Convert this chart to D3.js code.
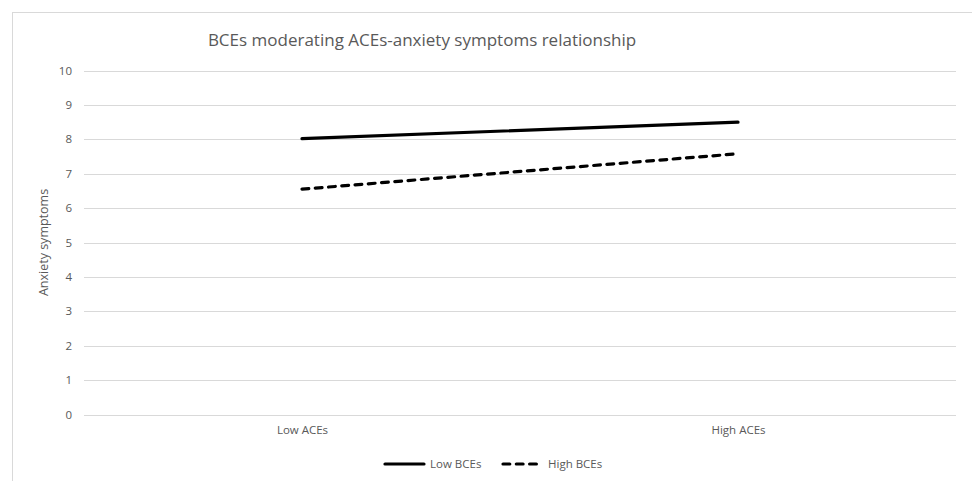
<!DOCTYPE html>
<html><head><meta charset="utf-8">
<script src="https://cdn.jsdelivr.net/npm/d3@7"></script>
<style>body{margin:0;background:#fff}svg{display:block}</style>
</head><body>
<svg id="c" width="972" height="481"></svg>
<script>
const categories = ["Low ACEs", "High ACEs"];
const seriesNames = ["Low BCEs", "High BCEs"];
const lowBCEs = [8.02, 8.5];
const highBCEs = [6.55, 7.58];
const yTicks = [0,1,2,3,4,5,6,7,8,9,10];
const title = "BCEs moderating ACEs-anxiety symptoms relationship";
const yLabel = "Anxiety symptoms";

const font = "'Open Sans', 'Liberation Sans', sans-serif";
const textColor = "#595959";
const svg = d3.select("#c");
svg.append("rect").attr("x",12.5).attr("y",12.5).attr("width",980).attr("height",480)
  .attr("fill","#fff").attr("stroke","#d9d9d9");

const m = {l:84, r:956, t:70.5, b:414.5};
const x = d3.scalePoint().domain(categories).range([m.l, m.r]).padding(0.5);
const y = d3.scaleLinear().domain([0,10]).range([m.b, m.t]);

const grid = svg.append("g");
grid.selectAll("line").data(yTicks).join("line")
  .attr("x1", m.l).attr("x2", m.r)
  .attr("y1", d=>Math.round(y(d))+0.5).attr("y2", d=>Math.round(y(d))+0.5)
  .attr("stroke","#d9d9d9").attr("stroke-width",1);

const yAxis = d3.axisLeft(y).tickValues(yTicks).tickSize(0).tickPadding(0);
const ya = svg.append("g").attr("transform",`translate(72,0)`).call(yAxis);
ya.select(".domain").remove();
ya.selectAll("text").attr("font-family",font).attr("font-size",11.5).attr("fill",textColor);

const xAxis = d3.axisBottom(x).tickSize(0).tickPadding(0);
const xa = svg.append("g").attr("transform",`translate(0,426)`).call(xAxis);
xa.select(".domain").remove();
xa.selectAll("text").attr("font-family",font).attr("font-size",11.5).attr("fill",textColor);

svg.append("text").attr("transform",`translate(48,${(m.t+m.b)/2}) rotate(-90)`)
  .attr("text-anchor","middle").attr("font-family",font).attr("font-size",12.5)
  .attr("fill",textColor).text(yLabel);

svg.append("text").attr("x",422).attr("y",46).attr("text-anchor","middle")
  .attr("font-family",font).attr("font-size",17).attr("fill",textColor).text(title);

const line = d3.line().x((d,i)=>x(categories[i])).y(d=>y(d));
const series = [
  {name: seriesNames[0], values: lowBCEs, dash: null},
  {name: seriesNames[1], values: highBCEs, dash: "6.8,6.5"}
];
svg.selectAll("path.s").data(series).join("path").attr("class","s")
  .attr("d", d=>line(d.values)).attr("fill","none").attr("stroke","#000")
  .attr("stroke-width",3.2).attr("stroke-linecap","round")
  .attr("stroke-dasharray", d=>d.dash);

const legX = [385, 503];
const lg = svg.append("g");
series.forEach((s,i)=>{
  lg.append("line").attr("x1",legX[i]).attr("x2",legX[i]+39).attr("y1",464).attr("y2",464)
    .attr("stroke","#000").attr("stroke-width",3.2).attr("stroke-linecap","round")
    .attr("stroke-dasharray", s.dash);
  lg.append("text").attr("x",legX[i]+45).attr("y",468).attr("font-family",font)
    .attr("font-size",11.5).attr("fill",textColor).text(s.name);
});
</script>
</body></html>
